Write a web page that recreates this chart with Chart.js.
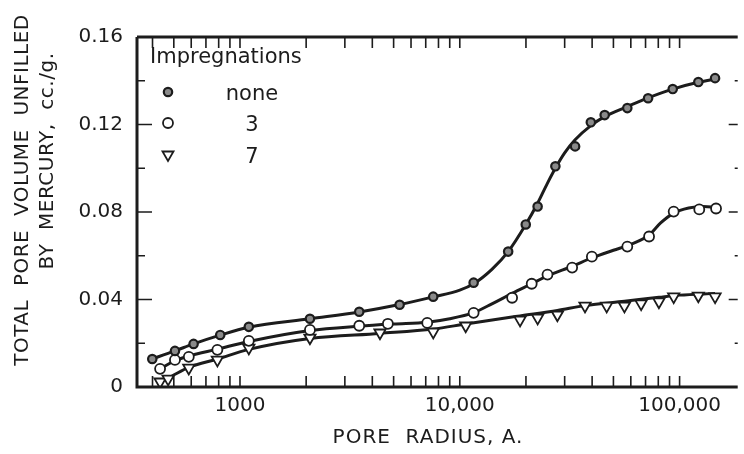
<!DOCTYPE html>
<html>
<head>
<meta charset="UTF-8">
<title>Pore volume unfilled by mercury</title>
<script src="https://cdn.jsdelivr.net/npm/chart.js@4"></script>
<style>
  body { margin: 0; background: #fff; }
</style>
</head>
<body>
<canvas id="poreChart" width="744" height="454"></canvas>
<script>
// measured points, pore radius (A) and volume (cc./g.)
const noneR = [399, 506, 615, 813, 1097, 2081, 3488, 5325, 7570, 11560, 16600, 19960, 22600, 27220, 33470, 39460, 45620, 57830, 71890, 93070, 121700, 145000];
const noneV = [0.0128, 0.0165, 0.0197, 0.0238, 0.0275, 0.0312, 0.0344, 0.0376, 0.0413, 0.0477, 0.0619, 0.0743, 0.0825, 0.1009, 0.1100, 0.1210, 0.1243, 0.1275, 0.1320, 0.1362, 0.1394, 0.1412];
const threeR = [433, 506, 585, 789, 1097, 2081, 3488, 4708, 7110, 11560, 17300, 21240, 25060, 32450, 39890, 57830, 72630, 93980, 122900, 146500];
const threeV = [0.0083, 0.0124, 0.0138, 0.0170, 0.0211, 0.0261, 0.0280, 0.0289, 0.0293, 0.0339, 0.0408, 0.0472, 0.0514, 0.0546, 0.0596, 0.0642, 0.0688, 0.0802, 0.0812, 0.0816];
const sevenR = [433, 471, 585, 789, 1097, 2081, 4335, 7570, 10640, 18800, 22600, 27800, 37120, 46580, 56100, 66820, 80540, 93980, 121700, 145000];
const sevenV = [0.0024, 0.0037, 0.0087, 0.0124, 0.0179, 0.0225, 0.0248, 0.0252, 0.0280, 0.0307, 0.0316, 0.0330, 0.0371, 0.0371, 0.0371, 0.0381, 0.0390, 0.0413, 0.0417, 0.0413];

// the drawn smooth curves
const noneCurveR = [390, 506, 615, 813, 1097, 2081, 3488, 5325, 7570, 10000, 11560, 14000, 16600, 19960, 22600, 25000, 27220, 30000, 33470, 39460, 45620, 57830, 71890, 93070, 121700, 150000];
const noneCurveV = [0.0125, 0.0165, 0.0197, 0.0237, 0.0273, 0.0312, 0.0343, 0.0377, 0.0412, 0.0443, 0.0472, 0.0538, 0.0619, 0.0743, 0.0840, 0.0930, 0.1000, 0.1070, 0.1130, 0.1195, 0.1236, 0.1282, 0.1322, 0.1362, 0.1393, 0.1410];
const threeCurveR = [433, 506, 585, 789, 1097, 2081, 3488, 5000, 7110, 9000, 11560, 14000, 17300, 21240, 25060, 32450, 39890, 50000, 60000, 72630, 82000, 93980, 110000, 128000, 146500];
const threeCurveV = [0.0083, 0.0120, 0.0142, 0.0173, 0.0208, 0.0258, 0.0278, 0.0288, 0.0296, 0.0312, 0.0340, 0.0380, 0.0428, 0.0472, 0.0508, 0.0552, 0.0590, 0.0625, 0.0652, 0.0695, 0.0750, 0.0795, 0.0818, 0.0825, 0.0822];
const sevenCurveR = [433, 471, 585, 789, 1097, 2081, 4335, 7570, 10640, 18800, 27800, 37120, 56100, 80540, 100000, 145000];
const sevenCurveV = [0.0028, 0.0042, 0.0090, 0.0128, 0.0172, 0.0222, 0.0245, 0.0265, 0.0288, 0.0325, 0.0350, 0.0372, 0.0392, 0.0410, 0.0420, 0.0428];

const seriesNames = ['none', '3', '7'];
const xLabelValues = [1000, 10000, 100000];
const xLabels = ['1000', '10,000', '100,000'];
const xTickValues = [400, 500, 600, 700, 800, 900, 1000, 2000, 3000, 4000, 5000, 6000, 7000, 8000, 9000,
                     10000, 20000, 30000, 40000, 50000, 60000, 70000, 80000, 90000, 100000];
const yLabelValues = [0, 0.04, 0.08, 0.12, 0.16];
const yLabels = ['0', '0.04', '0.08', '0.12', '0.16'];
const yTickValues = [0.02, 0.04, 0.06, 0.08, 0.10, 0.12, 0.14];

const INK = '#1c1c1c';
const FONT = "'DejaVu Sans', sans-serif";

function pts(r, v) { return r.map((x, i) => ({x: x, y: v[i]})); }

function drawMarker(ctx, kind, x, y) {
  ctx.save();
  ctx.strokeStyle = INK;
  if (kind === 0) {
    ctx.fillStyle = '#8a8a8a'; ctx.lineWidth = 2.2;
    ctx.beginPath(); ctx.arc(x, y, 4.2, 0, Math.PI * 2); ctx.fill(); ctx.stroke();
  } else if (kind === 1) {
    ctx.fillStyle = '#fff'; ctx.lineWidth = 1.8;
    ctx.beginPath(); ctx.arc(x, y, 5, 0, Math.PI * 2); ctx.fill(); ctx.stroke();
  } else {
    ctx.fillStyle = '#fff'; ctx.lineWidth = 1.8;
    ctx.beginPath(); ctx.moveTo(x - 5.5, y - 3.5); ctx.lineTo(x + 5.5, y - 3.5); ctx.lineTo(x, y + 6); ctx.closePath();
    ctx.fill(); ctx.stroke();
  }
  ctx.restore();
}

const decorations = {
  id: 'decorations',
  afterDraw(chart) {
    const {ctx, chartArea: a, scales: {x, y}} = chart;
    ctx.save();
    ctx.strokeStyle = INK;
    ctx.lineCap = 'butt';
    // frame: left, bottom, top
    ctx.lineWidth = 3;
    ctx.beginPath();
    ctx.moveTo(a.left, a.top); ctx.lineTo(a.left, a.bottom); ctx.lineTo(a.right + 2, a.bottom);
    ctx.moveTo(a.left, a.top); ctx.lineTo(a.right + 2, a.top);
    ctx.stroke();
    // x ticks top and bottom, pointing inward
    ctx.lineWidth = 1.6;
    ctx.beginPath();
    xTickValues.forEach(v => {
      const px = x.getPixelForValue(v);
      ctx.moveTo(px, a.bottom); ctx.lineTo(px, a.bottom - 11);
      ctx.moveTo(px, a.top); ctx.lineTo(px, a.top + 11);
    });
    // y ticks left and right
    yTickValues.forEach((v, i) => {
      const py = y.getPixelForValue(v);
      const len = (i % 2 === 1) ? 15 : 8;
      ctx.moveTo(a.left, py); ctx.lineTo(a.left + len, py);
      ctx.moveTo(a.right + 2, py); ctx.lineTo(a.right + 2 - (i % 2 === 1 ? 9 : 3), py);
    });
    ctx.stroke();

    // axis titles
    ctx.fillStyle = INK;
    ctx.font = '20px ' + FONT;
    ctx.letterSpacing = '1px';
    ctx.textAlign = 'center';
    ctx.textBaseline = 'middle';
    ctx.fillText('PORE  RADIUS, A.', 428, 438);
    ctx.letterSpacing = '0.5px';
    ctx.save();
    ctx.translate(23, 190); ctx.rotate(-Math.PI / 2);
    ctx.fillText('TOTAL  PORE  VOLUME  UNFILLED', 0, 0);
    ctx.restore();
    ctx.save();
    ctx.translate(48, 161); ctx.rotate(-Math.PI / 2);
    ctx.fillText('BY  MERCURY,  cc./g.', 0, 0);
    ctx.restore();
    ctx.letterSpacing = '0px';

    // legend box in upper left
    ctx.font = '21px ' + FONT;
    ctx.textAlign = 'left';
    ctx.textBaseline = 'alphabetic';
    ctx.fillText('Impregnations', 150, 63);
    const rowY = [92, 123, 155];
    ctx.textAlign = 'center';
    seriesNames.forEach((name, i) => {
      drawMarker(ctx, i, 168, rowY[i]);
      ctx.fillText(name, 252, rowY[i] + 8);
    });
    ctx.restore();
  }
};

const markerStyles = [
  {pointStyle: 'circle', pointRadius: 4.2, pointBackgroundColor: '#8a8a8a', pointBorderWidth: 2.2, rotation: 0},
  {pointStyle: 'circle', pointRadius: 5, pointBackgroundColor: '#fff', pointBorderWidth: 1.8, rotation: 0},
  {pointStyle: 'triangle', pointRadius: 6.5, pointBackgroundColor: '#fff', pointBorderWidth: 1.8, rotation: 180}
];
const markerData = [pts(noneR, noneV), pts(threeR, threeV), pts(sevenR, sevenV)];
const curveData = [pts(noneCurveR, noneCurveV), pts(threeCurveR, threeCurveV), pts(sevenCurveR, sevenCurveV)];

const datasets = [];
seriesNames.forEach((name, i) => {
  datasets.push(Object.assign({
    label: name,
    data: markerData[i],
    showLine: false,
    pointBorderColor: INK,
    order: 0
  }, markerStyles[i]));
});
seriesNames.forEach((name, i) => {
  datasets.push({
    label: name + ' curve',
    data: curveData[i],
    showLine: true,
    pointRadius: 0,
    borderColor: INK,
    borderWidth: 3,
    cubicInterpolationMode: 'monotone',
    order: 1
  });
});

const config = {
  type: 'scatter',
  data: {datasets},
  options: {
    responsive: false,
    animation: false,
    layout: {padding: {left: 0, right: 0, top: 37, bottom: 0}},
    plugins: {legend: {display: false}, tooltip: {enabled: false}},
    scales: {
      x: {
        type: 'logarithmic',
        min: 340,
        max: 180000,
        grid: {display: false, drawTicks: false},
        border: {display: false},
        afterBuildTicks: s => { s.ticks = xLabelValues.map(v => ({value: v})); },
        afterFit: s => { s.height = 67; },
        ticks: {
          padding: 7,
          color: INK,
          font: {family: FONT, size: 20},
          maxRotation: 0,
          autoSkip: false,
          callback: (v, i) => xLabels[i]
        }
      },
      y: {
        min: 0,
        max: 0.16,
        grid: {display: false, drawTicks: false},
        border: {display: false},
        afterBuildTicks: s => { s.ticks = yLabelValues.map(v => ({value: v})); },
        afterFit: s => { s.width = 137; },
        ticks: {
          padding: 14,
          color: INK,
          font: {family: FONT, size: 20},
          callback: (v, i) => yLabels[i]
        }
      }
    }
  },
  plugins: [decorations]
};

const poreChart = new Chart(document.getElementById('poreChart'), config);
</script>
</body>
</html>
